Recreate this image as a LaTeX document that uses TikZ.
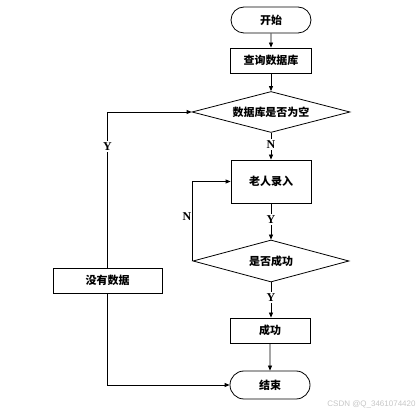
\documentclass[tikz,border=0pt]{standalone}
\usepackage{fontspec}
\setmainfont{Liberation Serif}
\newfontfamily\cjk{Noto Sans CJK SC}
\newfontfamily\wmfont{Liberation Sans}
\usepackage{tikz}
\usetikzlibrary{arrows.meta,positioning,shapes.geometric,shapes.misc}

\begin{document}
\begin{tikzpicture}[x=1pt, y=1pt, line width=0.8pt,
  every node/.style={inner sep=0pt, font=\cjk\bfseries\fontsize{11}{13}\selectfont},
  term/.style={rounded rectangle, draw, minimum width=80pt, minimum height=26pt},
  box/.style={rectangle, draw, minimum width=81pt, minimum height=25pt},
  decide/.style={diamond, draw, aspect=3.8, minimum width=158pt, minimum height=41pt},
  arr/.style={-{Triangle[length=5pt,width=4pt]}},
  lbl/.style={fill=white, inner sep=1.5pt, font=\bfseries\fontsize{12}{14}\selectfont}]
  \useasboundingbox (0,0) rectangle (416,-414);

  \node[term] (start) at (271,-20) {开始};
  \node[box] (query) at (271,-60.5) {查询数据库};
  \node[decide] (dec1) at (271,-112) {数据库是否为空};
  \node[box, minimum width=80pt, minimum height=43pt] (input) at (271,-181.5) {老人录入};
  \node[decide, minimum width=156pt, minimum height=42pt] (dec2) at (271,-261) {是否成功};
  \node[box, minimum width=80pt] (ok) at (270,-330.5) {成功};
  \node[term, minimum height=28pt] (stop) at (270,-385) {结束};
  \node[box, minimum width=109pt] (nodata) at (107.5,-280.5) {没有数据};

  \draw[arr] (start) -- (query);
  \draw[arr] (query) -- (dec1);
  \draw[arr] (dec1) -- node[lbl, pos=0.45] {N} (input);
  \draw[arr] (input) -- node[lbl, pos=0.45] {Y} (dec2);
  \draw[arr] (dec2.south) -- node[lbl, pos=0.44] {Y} (dec2.south |- ok.north);
  \draw[arr] (ok) -- (stop);
  \draw[arr] (dec2.west) |- node[left, inner sep=1pt, pos=0.28, font=\bfseries\fontsize{12}{14}\selectfont] {N} (input.west);
  \draw[arr] (nodata) |- node[lbl, pos=0.39] {Y} (dec1.west);
  \draw[arr] (nodata) |- (stop);

  \node[anchor=east, text=gray!45, font=\wmfont\fontsize{8}{10}\selectfont] (mark) at (416,-404) {CSDN @Q\_3461074420};
\end{tikzpicture}
\end{document}
